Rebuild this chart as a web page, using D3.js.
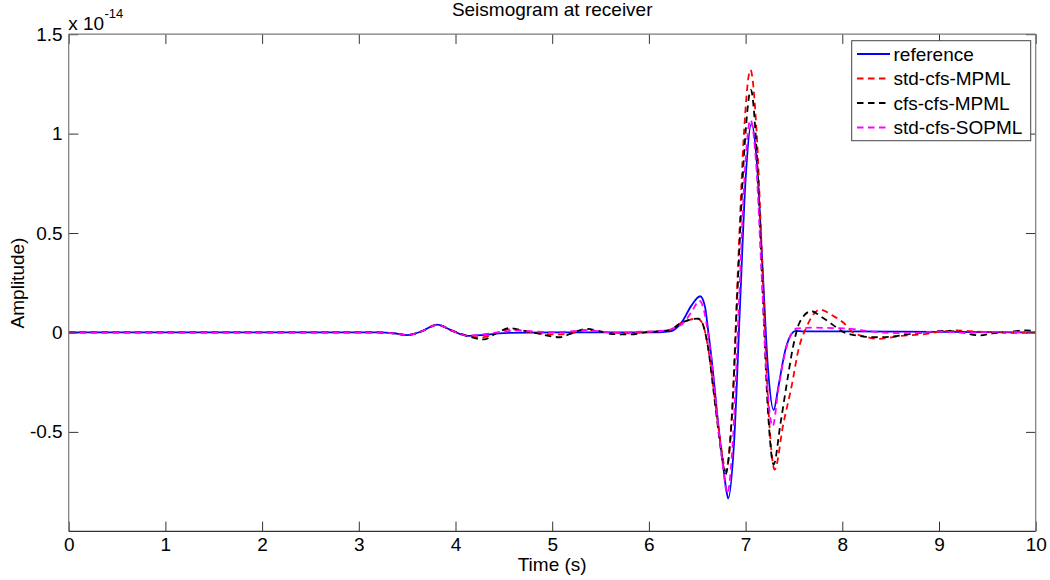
<!DOCTYPE html>
<html>
<head>
<meta charset="utf-8">
<script src="https://cdn.jsdelivr.net/npm/d3@7"></script>
<style>
  html, body { margin: 0; padding: 0; background: #ffffff; }
  svg { display: block; font-family: "Liberation Sans", Arial, Helvetica, sans-serif; }
</style>
</head>
<body>
<svg id="chart" width="1050" height="580"></svg>
<script>
// ---- data (amplitude in units of 1e-14) ----
const seriesNames = ["reference", "std-cfs-MPML", "cfs-cfs-MPML", "std-cfs-SOPML"];

const refT = [0, 3.2, 3.36, 3.5, 3.65, 3.81, 3.97, 4.12, 4.3, 4.5, 5.0, 6.0, 6.22, 6.34, 6.44, 6.53, 6.58, 6.61, 6.65, 6.68, 6.71, 6.74, 6.77, 6.80, 6.82, 6.88, 6.94, 7.00, 7.06, 7.12, 7.175, 7.23, 7.29, 7.34, 7.41, 7.46, 7.52, 7.6, 8.0, 9.0, 10.0];
const refV = [0, 0, -0.004, -0.013, 0.006, 0.039, 0.008, -0.017, -0.012, -0.003, 0.0, 0.0, 0.006, 0.052, 0.135, 0.182, 0.13, 0.02, -0.14, -0.28, -0.43, -0.56, -0.68, -0.79, -0.835, -0.56, 0.11, 0.77, 1.05, 0.83, 0.33, -0.17, -0.39, -0.27, -0.09, -0.02, 0.008, 0.005, 0.005, 0.003, 0];

const stdMpmlT = [0, 3.2, 3.36, 3.5, 3.65, 3.81, 3.97, 4.12, 4.27, 4.42, 4.56, 4.75, 5.0, 5.15, 5.35, 5.55, 5.8, 6.0, 6.2, 6.34, 6.43, 6.5, 6.55, 6.61, 6.67, 6.72, 6.76, 6.795, 6.86, 6.92, 6.985, 7.05, 7.1125, 7.175, 7.2375, 7.30, 7.39, 7.48, 7.545, 7.63, 7.77, 7.9, 8.01, 8.11, 8.25, 8.36, 8.6, 8.87, 9.0, 9.18, 9.4, 9.56, 9.75, 10.0];
const stdMpmlV = [0, 0, -0.004, -0.013, 0.006, 0.038, 0.008, -0.017, -0.025, -0.004, 0.016, 0.004, -0.01, -0.008, 0.012, 0.002, -0.004, 0.003, 0.01, 0.05, 0.065, 0.07, 0.05, -0.07, -0.29, -0.48, -0.62, -0.70, -0.40, 0.31, 1.02, 1.32, 1.02, 0.315, -0.395, -0.69, -0.46, -0.26, -0.09, 0.027, 0.115, 0.085, 0.05, 0.0, -0.022, -0.032, -0.018, -0.007, 0.003, 0.01, 0.004, 0.002, -0.002, 0];

const cfsMpmlT = [0, 3.2, 3.36, 3.5, 3.65, 3.81, 3.97, 4.12, 4.29, 4.42, 4.56, 4.7, 4.85, 5.08, 5.22, 5.35, 5.5, 5.62, 5.8, 6.0, 6.2, 6.34, 6.43, 6.51, 6.55, 6.61, 6.67, 6.72, 6.76, 6.79, 6.856, 6.92, 6.99, 7.055, 7.11, 7.17, 7.23, 7.29, 7.36, 7.425, 7.49, 7.56, 7.68, 7.78, 7.87, 8.0, 8.18, 8.35, 8.53, 8.7, 8.87, 9.05, 9.2, 9.42, 9.55, 9.7, 9.9, 10.0];
const cfsMpmlV = [0, 0, -0.004, -0.013, 0.006, 0.038, 0.008, -0.017, -0.035, -0.005, 0.022, 0.01, -0.005, -0.024, 0.0, 0.018, 0.005, -0.008, -0.01, 0.003, 0.01, 0.05, 0.065, 0.07, 0.05, -0.07, -0.30, -0.50, -0.64, -0.715, -0.44, 0.25, 0.94, 1.22, 0.945, 0.28, -0.385, -0.664, -0.46, -0.26, -0.074, 0.052, 0.107, 0.08, 0.05, 0.005, -0.018, -0.024, -0.02, -0.008, 0.0, 0.008, 0.004, -0.015, -0.005, 0.002, 0.01, 0.005];

const stdSopmlT = [0, 3.2, 3.36, 3.5, 3.65, 3.81, 3.97, 4.12, 4.3, 4.5, 4.65, 4.8, 5.0, 5.2, 5.35, 5.5, 5.7, 5.9, 6.1, 6.25, 6.35, 6.45, 6.52, 6.57, 6.61, 6.65, 6.68, 6.71, 6.74, 6.77, 6.79, 6.81, 6.87, 6.93, 6.99, 7.05, 7.11, 7.165, 7.22, 7.28, 7.34, 7.40, 7.46, 7.53, 7.7, 7.9, 8.1, 8.25, 8.4, 8.7, 9.0, 9.3, 9.6, 10.0];
const stdSopmlV = [0, 0, -0.004, -0.013, 0.006, 0.038, 0.008, -0.016, -0.008, 0.004, 0.01, 0.005, 0.002, 0.006, 0.012, 0.005, -0.003, 0.004, 0.006, 0.02, 0.045, 0.11, 0.16, 0.11, 0.0, -0.15, -0.29, -0.44, -0.57, -0.69, -0.77, -0.81, -0.53, 0.13, 0.79, 1.07, 0.84, 0.30, -0.24, -0.472, -0.28, -0.12, -0.02, 0.02, 0.024, 0.022, 0.018, 0.008, 0.0, -0.004, 0.005, -0.002, 0.003, 0];

const xTicks = [0, 1, 2, 3, 4, 5, 6, 7, 8, 9, 10];
const yTicks = [-0.5, 0, 0.5, 1, 1.5];
const yTickLabels = ["-0.5", "0", "0.5", "1", "1.5"];
const colors = ["#0000ff", "#ff0000", "#000000", "#ff00ff"];

// ---- layout ----
const svg = d3.select("#chart");
const L = 68.7, R = 1035.7, T = 34.2, B = 531.3;
const x = d3.scaleLinear().domain([0, 10]).range([L, R]);
const y = d3.scaleLinear().domain([-1.0, 1.5]).range([B, T]);
const FS = 19;
const tick = 9.7;

const series = [
  { name: seriesNames[0], t: refT, v: refV, color: colors[0], dash: null },
  { name: seriesNames[1], t: stdMpmlT, v: stdMpmlV, color: colors[1], dash: "6.5,4.5" },
  { name: seriesNames[2], t: cfsMpmlT, v: cfsMpmlV, color: colors[2], dash: "6.5,4.5" },
  { name: seriesNames[3], t: stdSopmlT, v: stdSopmlV, color: colors[3], dash: "6.5,4.5" }
];

// clip
svg.append("clipPath").attr("id", "clip").append("rect")
  .attr("x", L).attr("y", T).attr("width", R - L).attr("height", B - T);

const line = d3.line().x(d => x(d[0])).y(d => y(d[1])).curve(d3.curveMonotoneX);
const g = svg.append("g").attr("clip-path", "url(#clip)");
series.forEach(s => {
  const pts = s.t.map((t, i) => [t, s.v[i]]);
  g.append("path").datum(pts)
    .attr("d", line)
    .attr("fill", "none")
    .attr("stroke", s.color)
    .attr("stroke-width", 1.8)
    .attr("stroke-dasharray", s.dash)
    .attr("stroke-linejoin", "round");
});

// axes
function styleAxis(sel) {
  sel.select(".domain").remove();
  sel.selectAll(".tick line").attr("stroke", "#333");
  sel.selectAll(".tick text").attr("fill", "#000").style("font-size", FS + "px")
    .style("font-family", '"Liberation Sans", Arial, sans-serif');
}
const xb = svg.append("g").attr("transform", `translate(0,${B})`)
  .call(d3.axisBottom(x).tickValues(xTicks).tickFormat(d3.format("d")).tickSize(-tick).tickPadding(6));
styleAxis(xb);
const xt = svg.append("g").attr("transform", `translate(0,${T})`)
  .call(d3.axisTop(x).tickValues(xTicks).tickFormat("").tickSize(-tick));
styleAxis(xt);
const yl = svg.append("g").attr("transform", `translate(${L},0)`)
  .call(d3.axisLeft(y).tickValues(yTicks).tickFormat((d, i) => yTickLabels[i]).tickSize(-tick).tickPadding(6));
styleAxis(yl);
const yr = svg.append("g").attr("transform", `translate(${R},0)`)
  .call(d3.axisRight(y).tickValues(yTicks).tickFormat("").tickSize(-tick));
styleAxis(yr);

// frame
svg.append("line").attr("x1", L).attr("x2", L).attr("y1", T).attr("y2", B).attr("stroke", "#7a7a7a").attr("stroke-width", 1.2);
svg.append("line").attr("x1", R).attr("x2", R).attr("y1", T).attr("y2", B).attr("stroke", "#7a7a7a").attr("stroke-width", 1.2);
svg.append("line").attr("x1", L).attr("x2", R).attr("y1", T).attr("y2", T).attr("stroke", "#7a7a7a").attr("stroke-width", 1.2);
svg.append("line").attr("x1", L).attr("x2", R).attr("y1", B).attr("y2", B).attr("stroke", "#333").attr("stroke-width", 1.2);

// exponent label
svg.append("text").attr("x", L - 0.5).attr("y", 29.5).style("font-size", FS + "px").attr("fill", "#000").text("x 10");
svg.append("text").attr("x", 104.5).attr("y", 18).style("font-size", "13px").attr("fill", "#000").text("-14");

// title and axis labels
svg.append("text").attr("x", (L + R) / 2).attr("y", 16).attr("text-anchor", "middle")
  .style("font-size", FS + "px").attr("fill", "#000").text("Seismogram at receiver");
svg.append("text").attr("x", (L + R) / 2).attr("y", 571).attr("text-anchor", "middle")
  .style("font-size", FS + "px").attr("fill", "#000").text("Time (s)");
svg.append("text").attr("transform", "translate(24,283) rotate(-90)").attr("text-anchor", "middle")
  .style("font-size", FS + "px").attr("fill", "#000").text("Amplitude)");

// legend
const lg = svg.append("g");
lg.append("rect").attr("x", 851.7).attr("y", 40.7).attr("width", 179).attr("height", 100)
  .attr("fill", "#fff").attr("stroke", "#444").attr("stroke-width", 1);
const rowY = [54, 78.5, 103, 127.5];
series.forEach((s, i) => {
  lg.append("line").attr("x1", 857).attr("x2", 890).attr("y1", rowY[i]).attr("y2", rowY[i])
    .attr("stroke", s.color).attr("stroke-width", 1.8).attr("stroke-dasharray", s.dash ? "6.5,4.5" : null);
  lg.append("text").attr("x", 893.5).attr("y", rowY[i]).attr("dy", "0.35em")
    .style("font-size", FS + "px").attr("fill", "#000").text(s.name);
});
</script>
</body>
</html>
